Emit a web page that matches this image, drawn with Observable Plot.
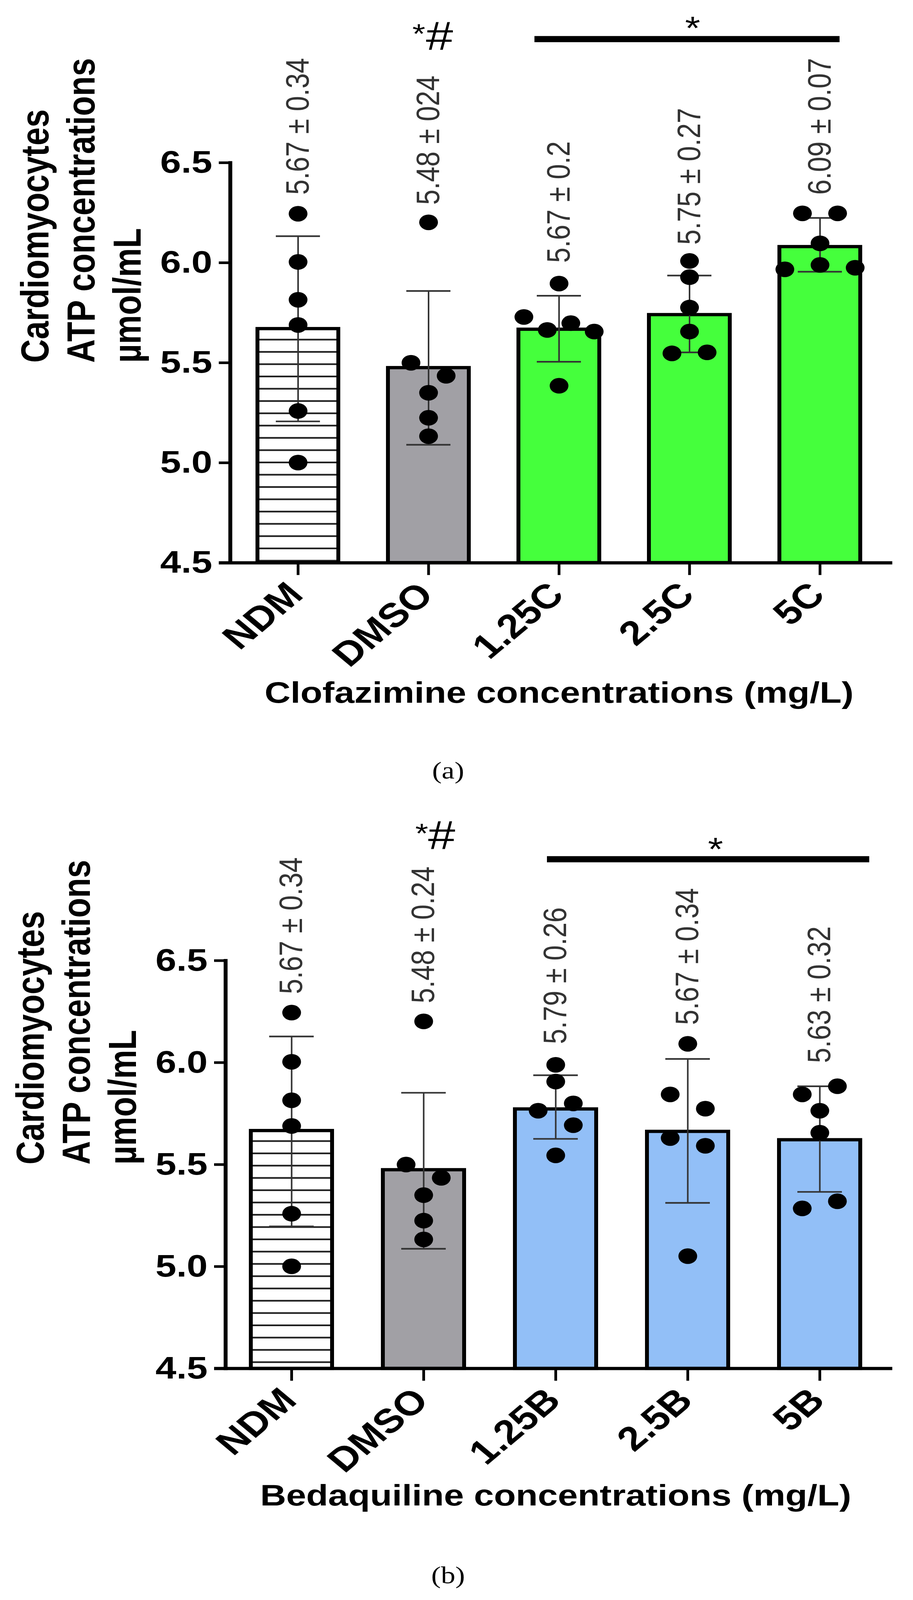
<!DOCTYPE html>
<html>
<head>
<meta charset="utf-8">
<script src="https://cdn.jsdelivr.net/npm/d3@7"></script>
<script src="https://cdn.jsdelivr.net/npm/@observablehq/plot@0.6"></script>
<style>
  html, body { margin: 0; padding: 0; background: #fff; }
  body { width: 2337px; overflow: hidden; }
  #page { position: absolute; left: 0; top: 0; width: 2337px; height: 4911px; transform-origin: 0 0; background: #fff; }
  .panel { position: absolute; left: 0; }
  .cap { position: absolute; left: 0; width: 2294px; text-align: center;
         font-family: "Liberation Serif", "Times New Roman", serif; font-size: 74px; line-height: 1; color: #000; }
</style>
</head>
<body>
<div id="page">
  <div id="panelA" class="panel" style="top:0px"></div>
  <div class="cap" style="top:2328px">(a)</div>
  <div id="panelB" class="panel" style="top:2460px"></div>
  <div class="cap" style="top:4798px">(b)</div>
</div>
<script>
// ---------------- data ----------------
const yDomain = [4.5, 6.5];
const yTicks = [4.5, 5.0, 5.5, 6.0, 6.5];
const yTitle = "Cardiomyocytes\nATP concentrations\nµmol/mL";

// Panel (a) – Clofazimine
const groupsA = ["NDM", "DMSO", "1.25C", "2.5C", "5C"];
const meansA = [5.67, 5.475, 5.667, 5.74, 6.08];
const lowA = [5.207, 5.09, 5.505, 5.552, 5.955];
const highA = [6.133, 5.859, 5.835, 5.936, 6.224];
const statTextA = ["5.67 ± 0.34", "5.48 ± 024", "5.67 ± 0.2", "5.75 ± 0.27", "6.09 ± 0.07"];
const statBaseA = [6.34, 6.29, 6.0, 6.09, 6.34];
const pointValuesA = [
  [6.245, 6.004, 5.815, 5.689, 5.259, 5.001],
  [6.202, 5.5, 5.435, 5.35, 5.225, 5.133],
  [5.896, 5.729, 5.664, 5.698, 5.656, 5.385],
  [6.009, 5.928, 5.776, 5.656, 5.547, 5.552],
  [6.247, 6.247, 6.097, 5.967, 5.989, 5.975]
];
const pointColsA = [
  [0, 0, 0, 0, 0, 0],
  [0, -1, 1, 0, 0, 0],
  [0, -2, -0.67, 0.67, 2, 0],
  [0, 0, 0, 0, -1, 1],
  [-1, 1, 0, -2, 0, 2]
];
const xTitleA = "Clofazimine concentrations (mg/L)";
const sigA = {from: "1.25C", to: "5C", y: 7.118, star: "*", starGroup: "2.5C", starY: 7.207};
const markA = {group: "DMSO", hashY: 7.134, starY: 7.175};

// Panel (b) – Bedaquiline
const groupsB = ["NDM", "DMSO", "1.25B", "2.5B", "5B"];
const meansB = [5.666, 5.474, 5.772, 5.662, 5.621];
const lowB = [5.197, 5.087, 5.626, 5.312, 5.366];
const highB = [6.128, 5.852, 5.938, 6.018, 5.884];
const statTextB = ["5.67 ± 0.34", "5.48 ± 0.24", "5.79 ± 0.26", "5.67 ± 0.34", "5.63 ± 0.32"];
const statBaseB = [6.336, 6.291, 6.091, 6.185, 5.998];
const pointValuesB = [
  [6.245, 6.004, 5.815, 5.689, 5.259, 5.001],
  [6.202, 5.5, 5.435, 5.35, 5.225, 5.133],
  [5.989, 5.907, 5.764, 5.80, 5.693, 5.545],
  [6.092, 5.844, 5.774, 5.63, 5.592, 5.051],
  [5.884, 5.844, 5.764, 5.656, 5.32, 5.285]
];
const pointColsB = [
  [0, 0, 0, 0, 0, 0],
  [0, -1, 1, 0, 0, 0],
  [0, 0, -1, 1, 1, 0],
  [0, -1, 1, -1, 1, 0],
  [1, -1, 0, 0, 1, -1]
];
const xTitleB = "Bedaquiline concentrations (mg/L)";
const sigB = {from: "1.25B", to: "5B", y: 6.997, star: "*", starGroup: "2.5B", starY: 7.081};
const markB = {group: "DMSO", hashY: 7.115, starY: 7.153};

// ---------------- styles ----------------
const FONT = "'Liberation Sans', Arial, Helvetica, sans-serif";
const GRAY = "#a1a0a5", GREEN = "#45ff3c", BLUE = "#92bff7";

function hatchDefs(id, phase) {
  return () => {
    const ns = "http://www.w3.org/2000/svg";
    const defs = document.createElementNS(ns, "defs");
    const p = document.createElementNS(ns, "pattern");
    p.setAttribute("id", id);
    p.setAttribute("patternUnits", "userSpaceOnUse");
    p.setAttribute("width", "40");
    p.setAttribute("height", "37.7");
    const bg = document.createElementNS(ns, "rect");
    bg.setAttribute("width", "40"); bg.setAttribute("height", "37.7"); bg.setAttribute("fill", "#fff");
    const ln = document.createElementNS(ns, "rect");
    ln.setAttribute("y", String(phase)); ln.setAttribute("width", "40"); ln.setAttribute("height", "5");
    ln.setAttribute("fill", "#1a1a1a");
    p.appendChild(bg); p.appendChild(ln); defs.appendChild(p);
    return defs;
  };
}

function panel(c) {
  const bars = c.groups.map((g, i) => ({group: g, mean: c.means[i], lo: c.lows[i], hi: c.highs[i], text: c.texts[i], base: c.bases[i]}));
  const pts = c.groups.flatMap((g, i) => c.vals[i].map((v, j) => ({group: g, value: v, col: c.cols[i][j]})));
  const colSet = [...new Set(pts.map(p => p.col))];
  const L = c.layout;
  return Plot.plot({
    width: 2337,
    height: L.height,
    marginTop: L.top,
    marginBottom: L.bottom,
    marginLeft: L.left,
    marginRight: L.right,
    style: {fontFamily: FONT, background: "transparent", overflow: "visible", color: "#000"},
    x: {type: "band", domain: c.groups, paddingInner: L.pi, paddingOuter: L.po, align: 0.5, label: null},
    y: {domain: yDomain, label: null},
    color: {domain: c.groups, range: c.fills},
    marks: [
      hatchDefs(L.hatchId, 22),
      Plot.barY(bars, {x: "group", y1: yDomain[0], y2: "mean", fill: "group", stroke: "#000", strokeWidth: 10}),
      Plot.ruleX(bars, {x: "group", y1: "lo", y2: "hi", stroke: "#333", strokeWidth: 4}),
      Plot.tickY(bars, {x: "group", y: "lo", stroke: "#333", strokeWidth: 5, insetLeft: 47, insetRight: 47}),
      Plot.tickY(bars, {x: "group", y: "hi", stroke: "#333", strokeWidth: 5, insetLeft: 47, insetRight: 47}),
      ...colSet.map(col => Plot.dot(pts.filter(p => p.col === col), {x: "group", y: "value", r: 24, fill: "#000", dx: col * 45})),
      Plot.text(bars, {x: "group", y: "base", text: "text", rotate: -90, textAnchor: "start", fontSize: 84, fill: "#333"}),
      // axes
      Plot.frame({anchor: "left", stroke: "#000", strokeWidth: 10}),
      Plot.ruleY([yDomain[0]], {stroke: "#000", strokeWidth: 10, insetLeft: -29, insetRight: L.axisExtendRight}),
      Plot.axisY({ticks: yTicks, tickFormat: d => d.toFixed(1), tickSize: 29, tickPadding: 17, strokeWidth: 8, fontSize: 96, fontWeight: "bold"}),
      Plot.axisX({tickSize: 38, strokeWidth: 7, tickFormat: () => ""}),
      Plot.axisX({tickSize: 0, tickPadding: 80, tickRotate: -45, dx: -6, fontSize: 104, fontWeight: "bold"}),
      Plot.text([c.xTitle], {frameAnchor: "bottom", dy: L.xTitleDy, fontSize: 92, fontWeight: "bold", fill: "#000"}),
      Plot.text([yTitle], {frameAnchor: "left", dx: -385, rotate: -90, fontSize: 100, fontWeight: "bold", lineHeight: 1.18, fill: "#000"}),
      // significance
      Plot.ruleY([c.sig], {y: "y", x1: "from", x2: "to", stroke: "#000", strokeWidth: 19, insetLeft: L.sigInsetL, insetRight: L.sigInsetR}),
      Plot.text([c.sig], {x: "starGroup", y: "starY", text: "star", fontSize: 100, dx: L.sigStarDx, dy: 24, fill: "#000"}),
      Plot.text([c.mark], {x: "group", y: "hashY", text: () => "#", fontSize: 125, dx: L.hashDx, dy: 3, fill: "#000"}),
      Plot.text([c.mark], {x: "group", y: "starY", text: () => "*", fontSize: 85, dx: L.hashStarDx, dy: 21, fill: "#000"})
    ]
  });
}

const chartA = panel({
  groups: groupsA, means: meansA, lows: lowA, highs: highA, texts: statTextA, bases: statBaseA,
  vals: pointValuesA, cols: pointColsA, xTitle: xTitleA, sig: sigA, mark: markA,
  fills: ["url(#hatchA)", GRAY, GREEN, GREEN, GREEN],
  layout: {height: 2290, top: 499, bottom: 563, left: 589, right: 65, pi: 0.379, po: 0.203,
           hatchId: "hatchA", axisExtendRight: -12, xTitleDy: 429, sigInsetL: 41, sigInsetR: 53,
           sigStarDx: 8, hashDx: 28, hashStarDx: -25}
});
const chartB = panel({
  groups: groupsB, means: meansB, lows: lowB, highs: highB, texts: statTextB, bases: statBaseB,
  vals: pointValuesB, cols: pointColsB, xTitle: xTitleB, sig: sigB, mark: markB,
  fills: ["url(#hatchB)", GRAY, BLUE, BLUE, BLUE],
  layout: {height: 2290, top: 488, bottom: 550, left: 577, right: 70, pi: 0.386, po: 0.186,
           hatchId: "hatchB", axisExtendRight: -17, xTitleDy: 420, sigInsetL: 82, sigInsetR: -23,
           sigStarDx: 71, hashDx: 46, hashStarDx: -5}
});
document.getElementById("panelA").appendChild(chartA);
document.getElementById("panelB").appendChild(chartB);

// The browser window may be shorter than the 4911px figure: fit it vertically into the visible area.
const FIG_H = 4911;
const vh = window.innerHeight || FIG_H;
const sy = Math.min(1, vh / FIG_H);
const page = document.getElementById("page");
page.style.transform = "scale(1," + sy + ")";
document.body.style.height = Math.round(FIG_H * sy) + "px";
</script>
</body>
</html>
